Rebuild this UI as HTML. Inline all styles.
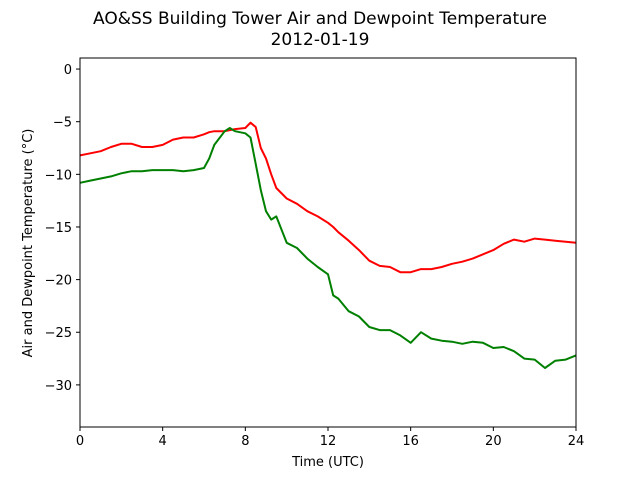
<!DOCTYPE html>
<html><head><meta charset="utf-8"><style>
body{margin:0;background:#fff;font-family:"DejaVu Sans","Liberation Sans",sans-serif;}
svg text{font-family:"DejaVu Sans","Liberation Sans",sans-serif;}
</style></head><body>
<svg id="chart" width="640" height="480" xmlns="http://www.w3.org/2000/svg">
<rect width="640" height="480" fill="#fff"/>
<text x="320" y="24" font-size="17" text-anchor="middle">AO&amp;SS Building Tower Air and Dewpoint Temperature</text>
<text x="320" y="45" font-size="17" text-anchor="middle">2012-01-19</text>
<g id="plot"></g>
<text x="328" y="466" font-size="13" text-anchor="middle">Time (UTC)</text>
<text transform="translate(32,243) rotate(-90)" font-size="13" text-anchor="middle">Air and Dewpoint Temperature (°C)</text>
</svg>
<script>
const times = [0,0.5,1,1.5,2,2.5,3,3.5,4,4.5,5,5.5,6,6.25,6.5,7,7.25,7.5,8,8.25,8.5,8.75,9,9.25,9.5,10,10.5,11,11.5,12,12.25,12.5,13,13.5,14,14.5,15,15.5,16,16.5,17,17.5,18,18.5,19,19.5,20,20.5,21,21.5,22,22.5,23,23.5,24];
const airTemp = [-8.2,-8.0,-7.8,-7.4,-7.1,-7.1,-7.4,-7.4,-7.2,-6.7,-6.5,-6.5,-6.2,-6.0,-5.9,-5.9,-5.8,-5.7,-5.6,-5.1,-5.5,-7.5,-8.5,-10,-11.3,-12.3,-12.8,-13.5,-14,-14.6,-15.0,-15.5,-16.3,-17.2,-18.2,-18.7,-18.8,-19.3,-19.3,-19.0,-19.0,-18.8,-18.5,-18.3,-18.0,-17.6,-17.2,-16.6,-16.2,-16.4,-16.1,-16.2,-16.3,-16.4,-16.5];
const dewTemp = [-10.8,-10.6,-10.4,-10.2,-9.9,-9.7,-9.7,-9.6,-9.6,-9.6,-9.7,-9.6,-9.4,-8.5,-7.2,-5.9,-5.6,-5.9,-6.1,-6.5,-9.0,-11.5,-13.5,-14.3,-14.0,-16.5,-17.0,-18.0,-18.8,-19.5,-21.5,-21.8,-23.0,-23.5,-24.5,-24.8,-24.8,-25.3,-26.0,-25.0,-25.6,-25.8,-25.9,-26.1,-25.9,-26.0,-26.5,-26.4,-26.8,-27.5,-27.6,-28.4,-27.7,-27.6,-27.2];
const xTicks = [0,4,8,12,16,20,24];
const yTicks = [0,-5,-10,-15,-20,-25,-30];
const L=80,R=576,T=58,B=427,xMin=0,xMax=24,yMax=1.05,yMin=-34.0;
const xs=v=>L+(v-xMin)/(xMax-xMin)*(R-L);
const ys=v=>T+(yMax-v)/(yMax-yMin)*(B-T);
const NS="http://www.w3.org/2000/svg";
const g=document.getElementById('plot');
function mk(t,a){const e=document.createElementNS(NS,t);for(const k in a)e.setAttribute(k,a[k]);g.appendChild(e);return e;}
function line(vals,color,name){
  const d=times.map((t,i)=>(i?'L':'M')+xs(t).toFixed(1)+' '+ys(vals[i]).toFixed(1)).join(' ');
  const p=mk('path',{d:d,fill:'none',stroke:color,'stroke-width':2,'stroke-linejoin':'round'});
  
  
}
line(airTemp,'#ff0000','air-temperature-line');
line(dewTemp,'#008000','dewpoint-temperature-line');
const fr=mk('rect',{x:L,y:T,width:R-L,height:B-T,fill:'none',stroke:'#000','stroke-width':1});


xTicks.forEach(v=>{
  const x=xs(v);
  const tk=mk('line',{x1:x,x2:x,y1:B,y2:B+4,stroke:'#000'});
  
  
  const tx=mk('text',{x:x,y:B+18,'font-size':13,'text-anchor':'middle'});
  tx.textContent=v;
  
  
});
yTicks.forEach(v=>{
  const y=ys(v);
  const tk=mk('line',{x1:L-4,x2:L,y1:y,y2:y,stroke:'#000'});
  
  
  const tx=mk('text',{x:L-8,y:y+5,'font-size':13,'text-anchor':'end'});
  tx.textContent=v<0?'\u2212'+(-v):v;
  
  
});
</script>
</body></html>
